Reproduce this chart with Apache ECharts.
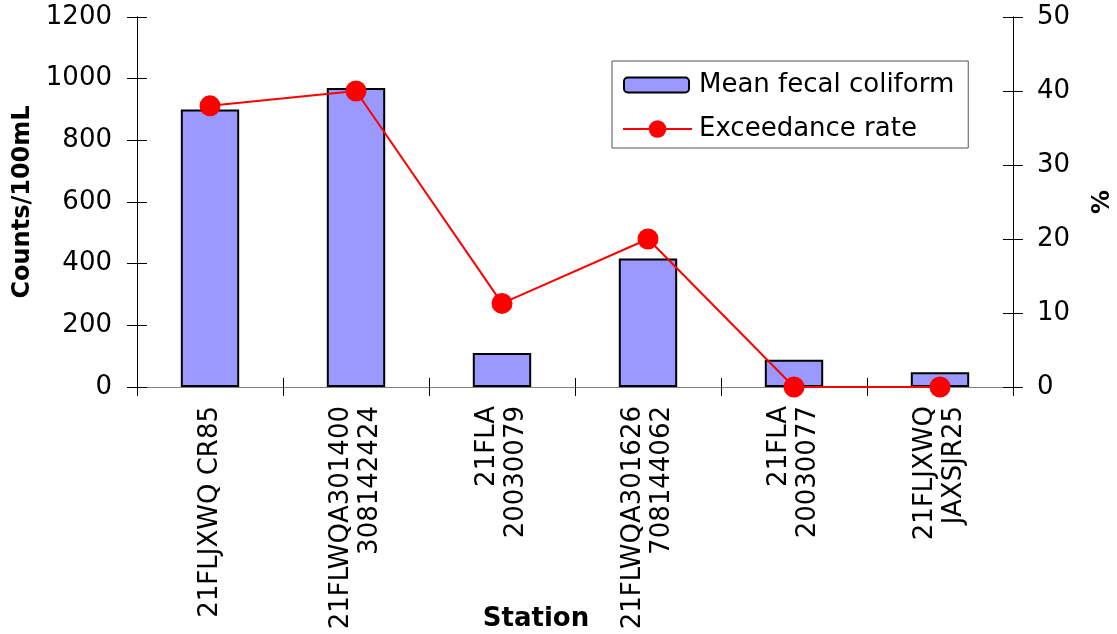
<!DOCTYPE html>
<html>
<head>
<meta charset="utf-8">
<script src="https://cdn.jsdelivr.net/npm/echarts@6/dist/echarts.min.js"></script>
<style>
  html, body { margin: 0; padding: 0; background: #fff; }
  #chart { width: 1117px; height: 634px; }
</style>
</head>
<body>
<div id="chart"></div>
<script>
// Station names (two-line labels where the ID is long)
const stations = [
  '21FLJXWQ CR85',
  '21FLWQA301400\n308142424',
  '21FLA\n20030079',
  '21FLWQA301626\n708144062',
  '21FLA\n20030077',
  '21FLJXWQ\nJAXSJR25'
];
// Mean fecal coliform, counts per 100 mL
const meanFecalColiform = [900, 970, 110, 417, 88, 48];
// Exceedance rate, percent
const exceedanceRate = [38, 40, 11.3, 20, 0, 0];

const FONT = '"DejaVu Sans", "Liberation Sans", sans-serif';
const plain = v => String(v);

const chart = echarts.init(document.getElementById('chart'), null, { renderer: 'canvas' });

// Counts axis and percent axis; each drawn twice so ticks cross the axis line
function countsAxis(inside) {
  return {
    type: 'value', position: 'left', min: 0, max: 1200, interval: 200,
    name: inside ? '' : 'Counts/100mL', nameLocation: 'middle', nameGap: 102, nameMoveOverlap: false,
    nameTextStyle: { fontFamily: FONT, fontSize: 24, fontWeight: 'bold', color: '#000' },
    axisLine: { show: true, lineStyle: { color: '#000', width: 1 } },
    axisTick: { show: true, inside: inside, length: 10, lineStyle: { color: '#000' } },
    axisLabel: { show: !inside, margin: 25, fontFamily: FONT, fontSize: 26, color: '#000', formatter: plain },
    splitLine: { show: false }
  };
}
function percentAxis(inside) {
  return {
    type: 'value', position: 'right', min: 0, max: 50, interval: 10,
    name: inside ? '' : '%', nameLocation: 'middle', nameGap: 78, nameRotate: 90, nameMoveOverlap: false,
    nameTextStyle: { fontFamily: FONT, fontSize: 24, fontWeight: 'bold', color: '#000' },
    axisLine: { show: true, lineStyle: { color: '#000', width: 1 } },
    axisTick: { show: true, inside: inside, length: 10, lineStyle: { color: '#000' } },
    axisLabel: { show: !inside, margin: 24, fontFamily: FONT, fontSize: 26, color: '#000', formatter: plain },
    splitLine: { show: false }
  };
}
function stationAxis(inside) {
  return {
    type: 'category', position: 'bottom', data: stations, boundaryGap: true,
    name: inside ? '' : 'Station', nameLocation: 'middle', nameGap: 219, nameMoveOverlap: false,
    nameTextStyle: { fontFamily: FONT, fontSize: 26, fontWeight: 'bold', color: '#000', padding: [0, 78, 0, 0] },
    axisLine: { show: true, lineStyle: { color: '#808080', width: 1 } },
    axisTick: { show: true, inside: inside, length: 9, alignWithLabel: false, lineStyle: { color: '#000' } },
    axisLabel: {
      show: !inside, rotate: 90, margin: 19, interval: 0,
      fontFamily: FONT, fontSize: 26, color: '#000', lineHeight: 29
    }
  };
}

chart.setOption({
  animation: false,
  backgroundColor: '#fff',
  grid: { left: 137, right: 104, top: 17, bottom: 247, containLabel: false, outerBoundsMode: 'none' },
  legend: [
    {
      // framed legend; its bottom padding leaves room for the second entry
      orient: 'vertical', left: 612, top: 61,
      padding: [11, 14, 50, 11],
      borderColor: '#555', borderWidth: 1, borderRadius: 0,
      itemWidth: 65, itemHeight: 15,
      textStyle: { fontFamily: FONT, fontSize: 26, color: '#000', lineHeight: 26, padding: [0, 0, 0, 5] },
      data: ['Mean fecal coliform']
    },
    {
      orient: 'vertical', left: 622, top: 116, padding: 0,
      itemWidth: 69, itemHeight: 22,
      textStyle: { fontFamily: FONT, fontSize: 26, color: '#000', lineHeight: 26, padding: [0, 0, 0, 2] },
      data: ['Exceedance rate']
    }
  ],
  xAxis: [stationAxis(false), stationAxis(true)],
  yAxis: [countsAxis(false), countsAxis(true), percentAxis(false), percentAxis(true)],
  series: [
    {
      name: 'Mean fecal coliform', type: 'bar', xAxisIndex: 0, yAxisIndex: 0,
      data: meanFecalColiform, barWidth: '40%',
      itemStyle: { color: '#9999FF', borderColor: '#000', borderWidth: 2 }
    },
    {
      name: 'Exceedance rate', type: 'line', xAxisIndex: 0, yAxisIndex: 2,
      data: exceedanceRate, symbol: 'circle', symbolSize: 21,
      lineStyle: { color: '#FF0000', width: 2 },
      itemStyle: { color: '#FF0000' }, z: 5
    }
  ]
});
</script>
</body>
</html>
